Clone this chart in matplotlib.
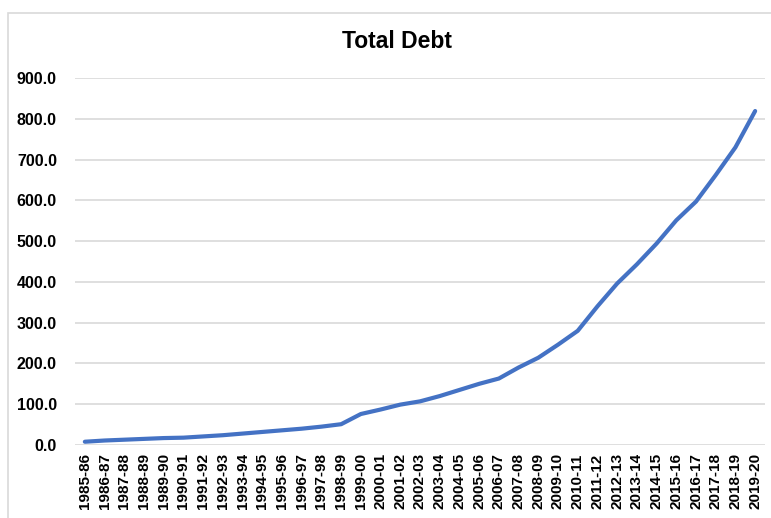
import matplotlib
matplotlib.use('Agg')
import matplotlib.pyplot as plt
from matplotlib.patches import Rectangle

plt.rcParams['font.family'] = ['Liberation Sans', 'DejaVu Sans']

YEARS = ['1985-86', '1986-87', '1987-88', '1988-89', '1989-90', '1990-91', '1991-92',
         '1992-93', '1993-94', '1994-95', '1995-96', '1996-97', '1997-98', '1998-99',
         '1999-00', '2000-01', '2001-02', '2002-03', '2003-04', '2004-05', '2005-06',
         '2006-07', '2007-08', '2008-09', '2009-10', '2010-11', '2011-12', '2012-13',
         '2013-14', '2014-15', '2015-16', '2016-17', '2017-18', '2018-19', '2019-20']
TOTAL_DEBT = [8, 11, 13, 15, 17, 18, 21, 24, 28, 32, 36, 40, 45, 51,
              76, 87, 99, 107, 120, 135, 150, 163, 190, 214, 246, 280,
              340, 396, 443, 494, 551, 597, 662, 730, 819]
Y_TICKS = [0, 100, 200, 300, 400, 500, 600, 700, 800, 900]

fig = plt.figure(figsize=(7.71, 5.18), dpi=100)

# chart border (cropped at right and bottom)
fig.patches.append(Rectangle((8 / 771, -0.1), 1.2, 1 - 13.5 / 518 + 0.1,
                             transform=fig.transFigure, fill=False,
                             edgecolor='#d9d9d9', linewidth=1.2))

ax = fig.add_axes([75 / 771, 1 - 445 / 518, (765 - 75) / 771, (445 - 78) / 518])
x = list(range(len(YEARS)))
ax.plot(x, TOTAL_DEBT, color='#4472c4', linewidth=3, solid_capstyle='round')

ax.set_xlim(-0.5, len(YEARS) - 0.5)
ax.set_ylim(0, 900)
ax.set_yticks(Y_TICKS)
ax.set_yticklabels(['%.1f' % v for v in Y_TICKS], fontsize=11.5, fontweight='bold')
ax.set_xticks(x)
ax.set_xticklabels(YEARS, rotation=90, fontsize=11, fontweight='bold')
ax.tick_params(axis='y', length=0, pad=13)
ax.tick_params(axis='x', length=0, pad=6)
ax.grid(axis='y', color='#d9d9d9', linewidth=1.2)
ax.set_axisbelow(True)
for s in ax.spines.values():
    s.set_visible(False)

fig.text(397 / 771, 1 - 41 / 518, 'Total Debt', ha='center', va='center',
         fontsize=16.5, fontweight='bold')

fig.savefig('out.png', dpi=100)
